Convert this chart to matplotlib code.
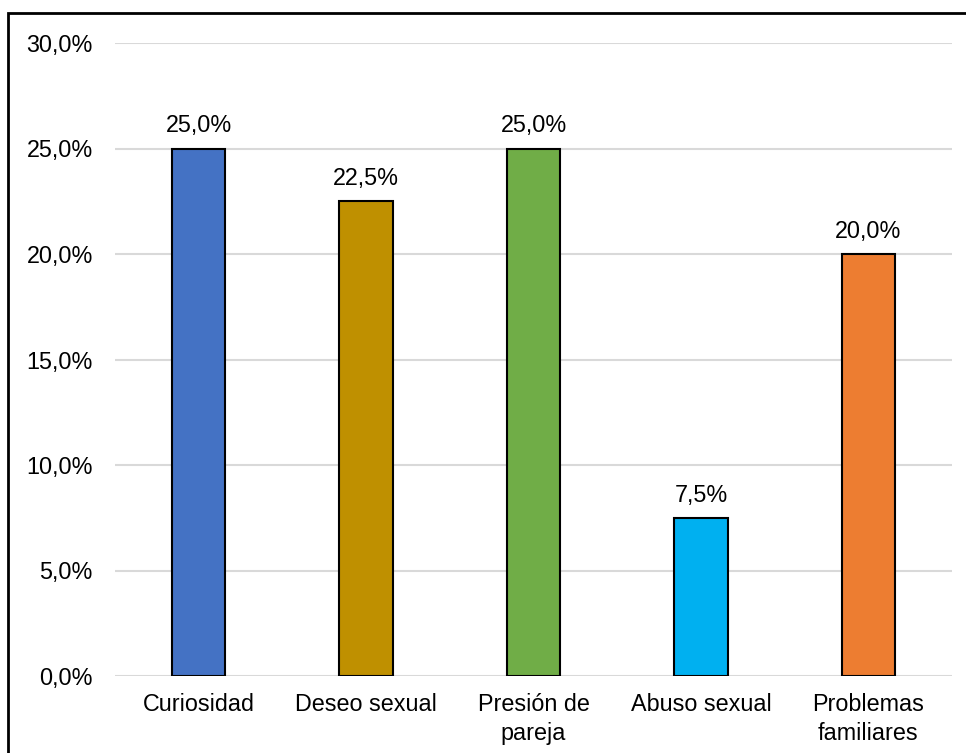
import matplotlib.pyplot as plt
from matplotlib.patches import Rectangle
from matplotlib.ticker import FuncFormatter

plt.rcParams["font.family"] = ["Liberation Sans", "DejaVu Sans"]

# data
categories = ["Curiosidad", "Deseo sexual", "Presión de\npareja", "Abuso sexual", "Problemas\nfamiliares"]
values = [25.0, 22.5, 25.0, 7.5, 20.0]
colors = ["#4472C4", "#BF9000", "#70AD47", "#00B0F0", "#ED7D31"]
yticks = [0, 5, 10, 15, 20, 25, 30]

W, H = 966, 753
fig = plt.figure(figsize=(W / 100, H / 100), dpi=100)
ax = fig.add_axes([115 / W, 1 - 676 / H, 837 / W, 633 / H])

x = range(len(categories))
ax.bar(x, values, width=0.32, color=colors, edgecolor="black", linewidth=1.5, zorder=3)

for xi, v in zip(x, values):
    ax.annotate(f"{v:.1f}%".replace(".", ","), (xi, v), xytext=(0, 8),
                textcoords="offset points", ha="center", va="bottom", fontsize=16.8)

ax.set_xlim(-0.5, len(categories) - 0.5)
ax.set_ylim(0, 30)
ax.set_yticks(yticks)
ax.yaxis.set_major_formatter(FuncFormatter(lambda v, p: f"{v:.1f}%".replace(".", ",")))
ax.set_xticks(list(x))
ax.set_xticklabels(categories, fontsize=16.8, linespacing=1.35, va="top")
ax.tick_params(axis="y", length=0, pad=16, labelsize=16.8)
ax.tick_params(axis="x", length=0, pad=12)

ax.grid(axis="y", color="#D9D9D9", linewidth=1.5, zorder=0)
for s in ax.spines.values():
    s.set_visible(False)

# outer frame around the chart
fig.patches.append(Rectangle((8 / W, -0.1), 1.2, 1.1 - 13.5 / H, transform=fig.transFigure,
                             fill=False, edgecolor="black", linewidth=2))

fig.savefig("out.png", dpi=100)
